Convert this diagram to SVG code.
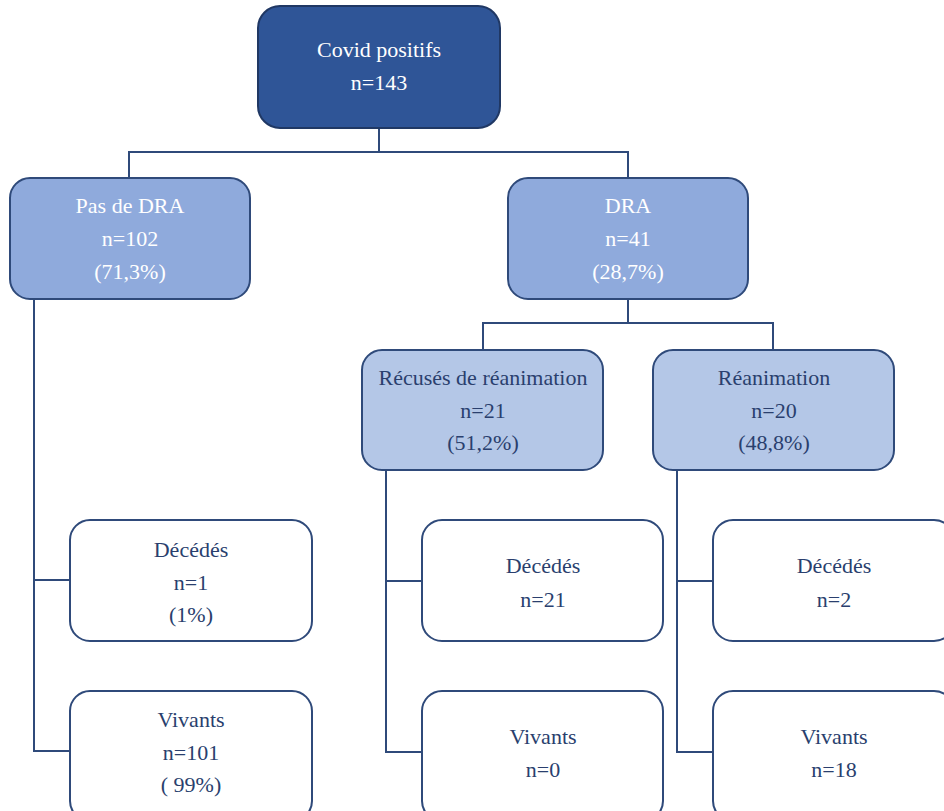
<svg xmlns="http://www.w3.org/2000/svg" width="944" height="811" viewBox="0 0 944 811" font-family="Liberation Serif, DejaVu Serif, serif" font-size="22" text-anchor="middle">
<style>
.w{fill:#ffffff}
.d{fill:#2a3f6e}
.top{fill:#2f5597;stroke:#203864;stroke-width:2}
.l1{fill:#8faadc;stroke:#2f4a7a;stroke-width:2}
.l2{fill:#b4c7e7;stroke:#2f4a7a;stroke-width:2}
.leaf{fill:#ffffff;stroke:#2f4a7a;stroke-width:2}
.c{fill:none;stroke:#2f4a7a;stroke-width:2}
</style>
<rect width="944" height="811" fill="#ffffff"/>
<g id="connectors">
<path class="c" d="M379 128V152M129 178V152H628V178"/>
<path class="c" d="M628 299V323M483 350V323H773V350"/>
<path class="c" d="M34 299V751H70M34 580H70"/>
<path class="c" d="M386 470V752H422M386 581H422"/>
<path class="c" d="M677 470V752H713M677 581H713"/>
</g>
<g id="covid">
<rect class="top" x="258" y="6" width="242" height="122" rx="22"/>
<text class="w" x="379" y="57">Covid positifs</text>
<text class="w" x="379" y="90">n=143</text>
</g>
<g id="pasdra">
<rect class="l1" x="10" y="178" width="240" height="121" rx="20"/>
<text class="w" x="130" y="213">Pas de DRA</text>
<text class="w" x="130" y="246">n=102</text>
<text class="w" x="130" y="279">(71,3%)</text>
</g>
<g id="dra">
<rect class="l1" x="508" y="178" width="240" height="121" rx="20"/>
<text class="w" x="628" y="213">DRA</text>
<text class="w" x="628" y="246">n=41</text>
<text class="w" x="628" y="279">(28,7%)</text>
</g>
<g id="recuses">
<rect class="l2" x="362" y="350" width="241" height="120" rx="20"/>
<text class="d" x="483" y="385">Récusés de réanimation</text>
<text class="d" x="483" y="418">n=21</text>
<text class="d" x="483" y="450">(51,2%)</text>
</g>
<g id="reanimation">
<rect class="l2" x="653" y="350" width="241" height="120" rx="20"/>
<text class="d" x="774" y="385">Réanimation</text>
<text class="d" x="774" y="418">n=20</text>
<text class="d" x="774" y="450">(48,8%)</text>
</g>
<g id="dec1">
<rect class="leaf" x="70" y="520" width="242" height="121" rx="20"/>
<text class="d" x="191" y="557">Décédés</text>
<text class="d" x="191" y="590">n=1</text>
<text class="d" x="191" y="622">(1%)</text>
</g>
<g id="viv1">
<rect class="leaf" x="70" y="691" width="242" height="130" rx="20"/>
<text class="d" x="191" y="727">Vivants</text>
<text class="d" x="191" y="760">n=101</text>
<text class="d" x="191" y="792">( 99%)</text>
</g>
<g id="dec2">
<rect class="leaf" x="422" y="520" width="241" height="121" rx="20"/>
<text class="d" x="543" y="573">Décédés</text>
<text class="d" x="543" y="607">n=21</text>
</g>
<g id="viv2">
<rect class="leaf" x="422" y="691" width="241" height="130" rx="20"/>
<text class="d" x="543" y="744">Vivants</text>
<text class="d" x="543" y="777">n=0</text>
</g>
<g id="dec3">
<rect class="leaf" x="713" y="520" width="241" height="121" rx="20"/>
<text class="d" x="834" y="573">Décédés</text>
<text class="d" x="834" y="607">n=2</text>
</g>
<g id="viv3">
<rect class="leaf" x="713" y="691" width="241" height="130" rx="20"/>
<text class="d" x="834" y="744">Vivants</text>
<text class="d" x="834" y="777">n=18</text>
</g>
</svg>
